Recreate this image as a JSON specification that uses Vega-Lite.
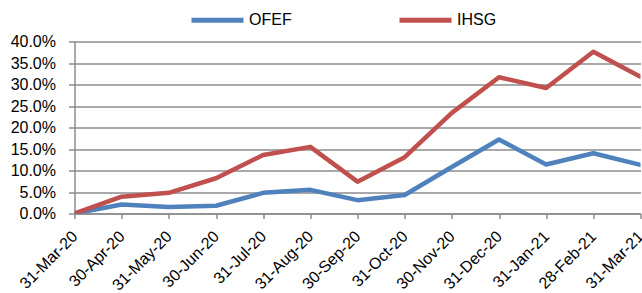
{
  "$schema": "https://vega.github.io/schema/vega-lite/v6.json",
  "width": 566,
  "height": 172,
  "autosize": {"type": "none"},
  "padding": {"left": 74.5, "top": 41.5, "right": 1.5, "bottom": 79.5},
  "background": "white",
  "config": {
    "font": "Liberation Sans",
    "view": {"stroke": null}
  },
  "data": {
    "values": [
      {"date": "31-Mar-20", "series": "OFEF", "value": 0.0},
      {"date": "30-Apr-20", "series": "OFEF", "value": 2.1},
      {"date": "31-May-20", "series": "OFEF", "value": 1.5},
      {"date": "30-Jun-20", "series": "OFEF", "value": 1.8},
      {"date": "31-Jul-20", "series": "OFEF", "value": 4.8},
      {"date": "31-Aug-20", "series": "OFEF", "value": 5.5},
      {"date": "30-Sep-20", "series": "OFEF", "value": 3.1},
      {"date": "31-Oct-20", "series": "OFEF", "value": 4.3},
      {"date": "30-Nov-20", "series": "OFEF", "value": 10.8},
      {"date": "31-Dec-20", "series": "OFEF", "value": 17.2},
      {"date": "31-Jan-21", "series": "OFEF", "value": 11.4},
      {"date": "28-Feb-21", "series": "OFEF", "value": 14.0},
      {"date": "31-Mar-21", "series": "OFEF", "value": 11.3},
      {"date": "31-Mar-20", "series": "IHSG", "value": 0.0},
      {"date": "30-Apr-20", "series": "IHSG", "value": 3.9},
      {"date": "31-May-20", "series": "IHSG", "value": 4.8},
      {"date": "30-Jun-20", "series": "IHSG", "value": 8.2},
      {"date": "31-Jul-20", "series": "IHSG", "value": 13.6},
      {"date": "31-Aug-20", "series": "IHSG", "value": 15.5},
      {"date": "30-Sep-20", "series": "IHSG", "value": 7.4},
      {"date": "31-Oct-20", "series": "IHSG", "value": 13.1},
      {"date": "30-Nov-20", "series": "IHSG", "value": 23.4},
      {"date": "31-Dec-20", "series": "IHSG", "value": 31.7},
      {"date": "31-Jan-21", "series": "IHSG", "value": 29.2},
      {"date": "28-Feb-21", "series": "IHSG", "value": 37.6},
      {"date": "31-Mar-21", "series": "IHSG", "value": 31.8}
    ]
  },
  "mark": {"type": "line", "strokeWidth": 4.5, "strokeCap": "round", "strokeJoin": "round", "clip": true},
  "encoding": {
    "x": {
      "field": "date",
      "type": "ordinal",
      "sort": null,
      "scale": {"type": "point", "padding": 0},
      "axis": {
        "title": null,
        "labelAngle": -45,
        "labelAlign": "right",
        "labelBaseline": "middle",
        "labelFontSize": 16,
        "labelColor": "#000",
        "labelPadding": 15,
        "labelOverlap": false,
        "domainColor": "#8c8c8c",
        "domainWidth": 1.5,
        "tickColor": "#8c8c8c",
        "tickWidth": 1.5,
        "tickSize": 5,
        "grid": false
      }
    },
    "y": {
      "field": "value",
      "type": "quantitative",
      "scale": {"domain": [0, 40], "nice": false, "zero": true},
      "axis": {
        "title": null,
        "values": [0, 5, 10, 15, 20, 25, 30, 35, 40],
        "labelExpr": "format(datum.value, '.1f') + '%'",
        "labelFontSize": 16,
        "labelColor": "#000",
        "labelPadding": 13,
        "domainColor": "#8c8c8c",
        "domainWidth": 1.5,
        "tickColor": "#8c8c8c",
        "tickWidth": 1.5,
        "tickSize": 6,
        "grid": true,
        "gridColor": "#8c8c8c",
        "gridWidth": 1.5
      }
    },
    "color": {
      "field": "series",
      "type": "nominal",
      "sort": ["OFEF", "IHSG"],
      "scale": {"domain": ["OFEF", "IHSG"], "range": ["#4F81BD", "#C0504D"]},
      "legend": {
        "title": null,
        "orient": "none",
        "direction": "horizontal",
        "legendX": 114.5,
        "legendY": -50,
        "symbolType": "stroke",
        "symbolSize": 2704,
        "symbolStrokeWidth": 5,
        "labelFontSize": 16,
        "labelColor": "#000",
        "labelOffset": 3,
        "columnPadding": 97
      }
    }
  }
}
